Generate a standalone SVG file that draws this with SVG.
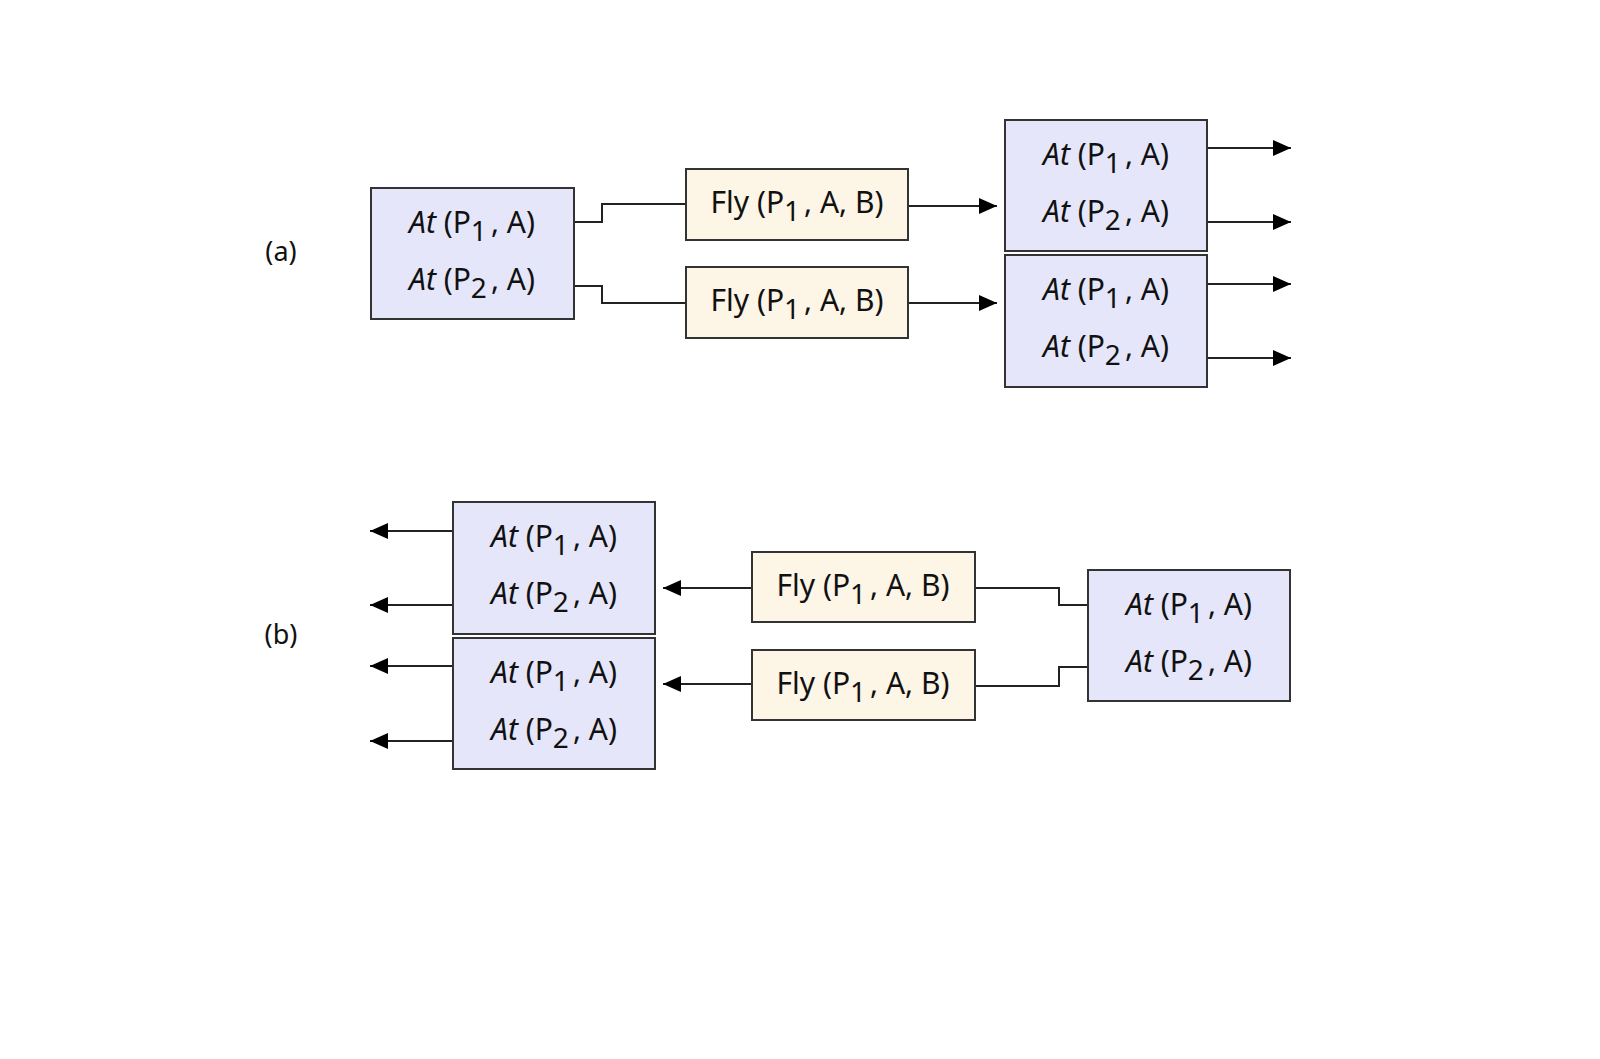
<svg xmlns="http://www.w3.org/2000/svg" width="1600" height="1059" viewBox="0 0 1600 1059">
<defs>
<style>
.at{fill:#e6e6fa;stroke:#333;stroke-width:2}
.fly{fill:#fdf5e6;stroke:#333;stroke-width:2}
.t{font-family:"Noto Sans","Open Sans",sans-serif;font-size:30px;fill:#111;text-anchor:middle}
.i{font-style:italic}
.s{font-size:28px}
.lbl{font-family:"Noto Sans","Open Sans",sans-serif;font-size:27px;fill:#111;text-anchor:middle}
.c{fill:none;stroke:#222;stroke-width:2}
</style>
<marker id="ah" markerUnits="userSpaceOnUse" markerWidth="18" markerHeight="18" refX="18" refY="9" orient="auto">
<path d="M0,1 L18,9 L0,17 z" fill="#000"/>
</marker>
</defs>
<rect width="1600" height="1059" fill="#fff"/>

<text class="lbl" x="281" y="261">(a)</text>
<text class="lbl" x="281" y="644">(b)</text>

<g id="connectors">
<!-- (a) -->
<polyline class="c" points="574,222 602,222 602,204 686,204"/>
<polyline class="c" points="574,286 602,286 602,303 686,303"/>
<line class="c" x1="908" y1="206" x2="997" y2="206" marker-end="url(#ah)"/>
<line class="c" x1="908" y1="303" x2="997" y2="303" marker-end="url(#ah)"/>
<line class="c" x1="1207" y1="148" x2="1291" y2="148" marker-end="url(#ah)"/>
<line class="c" x1="1207" y1="222" x2="1291" y2="222" marker-end="url(#ah)"/>
<line class="c" x1="1207" y1="284" x2="1291" y2="284" marker-end="url(#ah)"/>
<line class="c" x1="1207" y1="358" x2="1291" y2="358" marker-end="url(#ah)"/>
<!-- (b) -->
<polyline class="c" points="975,588 1059,588 1059,605 1088,605"/>
<polyline class="c" points="975,686 1059,686 1059,667 1088,667"/>
<line class="c" x1="752" y1="588" x2="663" y2="588" marker-end="url(#ah)"/>
<line class="c" x1="752" y1="684" x2="663" y2="684" marker-end="url(#ah)"/>
<line class="c" x1="453" y1="531" x2="370" y2="531" marker-end="url(#ah)"/>
<line class="c" x1="453" y1="605" x2="370" y2="605" marker-end="url(#ah)"/>
<line class="c" x1="453" y1="666" x2="370" y2="666" marker-end="url(#ah)"/>
<line class="c" x1="453" y1="741" x2="370" y2="741" marker-end="url(#ah)"/>
</g>

<!-- (a) nodes -->
<g id="a-start">
<rect class="at" x="371" y="188" width="203" height="131"/>
<text class="t" x="472" y="233"><tspan class="i">At</tspan> (P<tspan class="s" dy="8">1</tspan><tspan dy="-8" dx="4">, A)</tspan></text>
<text class="t" x="472" y="290"><tspan class="i">At</tspan> (P<tspan class="s" dy="8">2</tspan><tspan dy="-8" dx="4">, A)</tspan></text>
</g>
<g id="a-fly1">
<rect class="fly" x="686" y="169" width="222" height="71"/>
<text class="t" x="797" y="213">Fly (P<tspan class="s" dy="8">1</tspan><tspan dy="-8" dx="4">, A, B)</tspan></text>
</g>
<g id="a-fly2">
<rect class="fly" x="686" y="267" width="222" height="71"/>
<text class="t" x="797" y="311">Fly (P<tspan class="s" dy="8">1</tspan><tspan dy="-8" dx="4">, A, B)</tspan></text>
</g>
<g id="a-res1">
<rect class="at" x="1005" y="120" width="202" height="131"/>
<text class="t" x="1106" y="165"><tspan class="i">At</tspan> (P<tspan class="s" dy="8">1</tspan><tspan dy="-8" dx="4">, A)</tspan></text>
<text class="t" x="1106" y="222"><tspan class="i">At</tspan> (P<tspan class="s" dy="8">2</tspan><tspan dy="-8" dx="4">, A)</tspan></text>
</g>
<g id="a-res2">
<rect class="at" x="1005" y="255" width="202" height="132"/>
<text class="t" x="1106" y="300"><tspan class="i">At</tspan> (P<tspan class="s" dy="8">1</tspan><tspan dy="-8" dx="4">, A)</tspan></text>
<text class="t" x="1106" y="357"><tspan class="i">At</tspan> (P<tspan class="s" dy="8">2</tspan><tspan dy="-8" dx="4">, A)</tspan></text>
</g>

<!-- (b) nodes -->
<g id="b-res1">
<rect class="at" x="453" y="502" width="202" height="132"/>
<text class="t" x="554" y="547"><tspan class="i">At</tspan> (P<tspan class="s" dy="8">1</tspan><tspan dy="-8" dx="4">, A)</tspan></text>
<text class="t" x="554" y="604"><tspan class="i">At</tspan> (P<tspan class="s" dy="8">2</tspan><tspan dy="-8" dx="4">, A)</tspan></text>
</g>
<g id="b-res2">
<rect class="at" x="453" y="638" width="202" height="131"/>
<text class="t" x="554" y="683"><tspan class="i">At</tspan> (P<tspan class="s" dy="8">1</tspan><tspan dy="-8" dx="4">, A)</tspan></text>
<text class="t" x="554" y="740"><tspan class="i">At</tspan> (P<tspan class="s" dy="8">2</tspan><tspan dy="-8" dx="4">, A)</tspan></text>
</g>
<g id="b-fly1">
<rect class="fly" x="752" y="552" width="223" height="70"/>
<text class="t" x="863" y="596">Fly (P<tspan class="s" dy="8">1</tspan><tspan dy="-8" dx="4">, A, B)</tspan></text>
</g>
<g id="b-fly2">
<rect class="fly" x="752" y="650" width="223" height="70"/>
<text class="t" x="863" y="694">Fly (P<tspan class="s" dy="8">1</tspan><tspan dy="-8" dx="4">, A, B)</tspan></text>
</g>
<g id="b-start">
<rect class="at" x="1088" y="570" width="202" height="131"/>
<text class="t" x="1189" y="615"><tspan class="i">At</tspan> (P<tspan class="s" dy="8">1</tspan><tspan dy="-8" dx="4">, A)</tspan></text>
<text class="t" x="1189" y="672"><tspan class="i">At</tspan> (P<tspan class="s" dy="8">2</tspan><tspan dy="-8" dx="4">, A)</tspan></text>
</g>
</svg>
